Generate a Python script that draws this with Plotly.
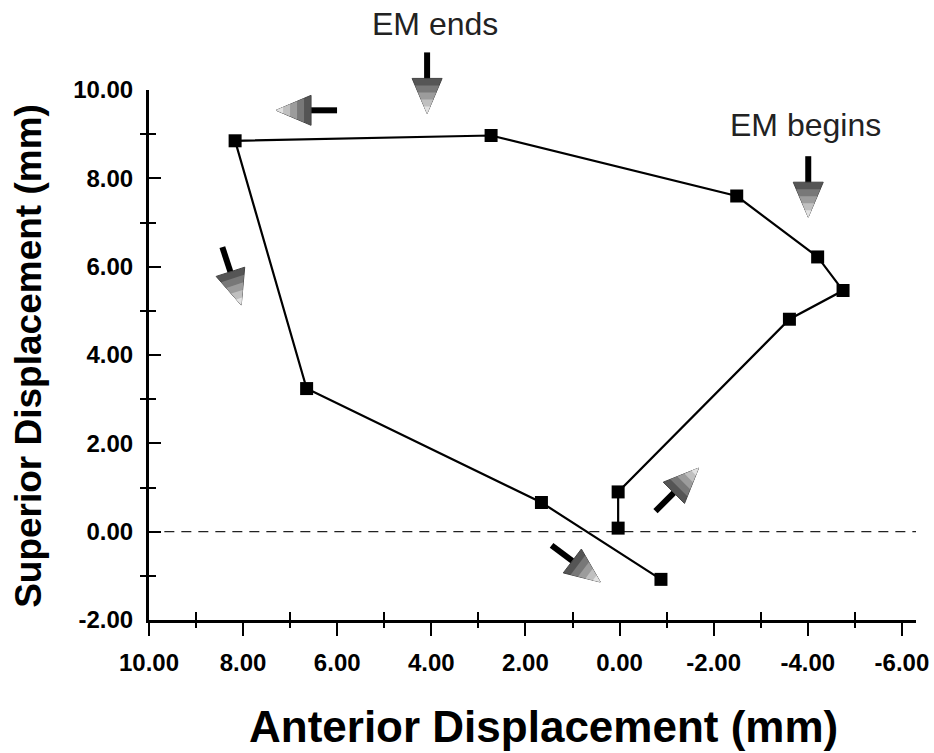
import math
import plotly.graph_objects as go

# ---- data ----
anterior = [0.03, 0.03, -3.61, -4.75, -4.21, -2.49, 2.73, 8.17, 6.65, 1.66, -0.88]
superior = [0.08, 0.90, 4.81, 5.46, 6.22, 7.60, 8.97, 8.85, 3.24, 0.66, -1.08]

x_ticks = [10, 8, 6, 4, 2, 0, -2, -4, -6]
x_tick_text = ["10.00", "8.00", "6.00", "4.00", "2.00", "0.00", "-2.00", "-4.00", "-6.00"]
y_ticks = [-2, 0, 2, 4, 6, 8, 10]
y_tick_text = ["-2.00", "0.00", "2.00", "4.00", "6.00", "8.00", "10.00"]
x_minor = [9, 7, 5, 3, 1, -1, -3, -5]
y_minor = [-1, 1, 3, 5, 7, 9]

X_RANGE = [10, -6.3]
Y_RANGE = [-2, 10]

# direction arrows: tip position (data units) and screen angle (deg, clockwise from +x)
arrow_tip_x = [4.09, -4.01, 7.30, 8.04, 0.41, -1.68]
arrow_tip_y = [9.47, 7.12, 9.54, 5.13, -1.14, 1.44]
arrow_angle = [90, 90, 180, 72, 37, -45]

labels = ["EM ends", "EM begins"]
label_x = [3.92, -3.95]
label_y = [11.5, 9.2]

FONT = "Liberation Sans, Arial, Helvetica, sans-serif"


def to_paper_x(v):
    return (v - X_RANGE[0]) / (X_RANGE[1] - X_RANGE[0])


def to_paper_y(v):
    return (v - Y_RANGE[0]) / (Y_RANGE[1] - Y_RANGE[0])


fig = go.Figure()

fig.add_trace(go.Scatter(
    x=anterior, y=superior, mode="lines+markers",
    line=dict(color="black", width=2.2),
    marker=dict(symbol="square", size=13, color="black"),
    showlegend=False, hoverinfo="skip",
))
# helper traces for overlay axes (minor ticks crossing the axis lines)
fig.add_trace(go.Scatter(x=[None], y=[None], xaxis="x2", yaxis="y", showlegend=False))
fig.add_trace(go.Scatter(x=[None], y=[None], xaxis="x", yaxis="y2", showlegend=False))

shapes = []
# dashed zero line
shapes.append(dict(type="line", xref="paper", yref="y", x0=0.02, x1=1.0, y0=0, y1=0,
                   line=dict(color="#222", width=1.3, dash="10px,7px"), layer="below"))

HEAD_L, HEAD_W, STEM_L = 35, 15, 26
band_scales = [1.0, 0.8, 0.6, 0.4, 0.2]
band_colors = ["#555555", "#787878", "#9c9c9c", "#c0c0c0", "#e2e2e2"]
for tx, ty, ang in zip(arrow_tip_x, arrow_tip_y, arrow_angle):
    ax_p, ay_p = to_paper_x(tx), to_paper_y(ty)
    a = math.radians(ang)
    dx, dy = math.cos(a), -math.sin(a)  # screen (y down) -> shape pixel (y up)
    px, py = -dy, dx
    bx, by = -HEAD_L * dx, -HEAD_L * dy
    sx, sy = bx - STEM_L * dx, by - STEM_L * dy
    shapes.append(dict(type="path", xref="paper", yref="paper",
                       xsizemode="pixel", ysizemode="pixel",
                       xanchor=ax_p, yanchor=ay_p,
                       path=f"M{sx:.1f},{sy:.1f} L{bx + 3*dx:.1f},{by + 3*dy:.1f}",
                       line=dict(color="black", width=6)))
    for s, c in zip(band_scales, band_colors):
        L, W = HEAD_L * s, HEAD_W * s
        cx, cy = -L * dx, -L * dy
        p1 = (cx + W * px, cy + W * py)
        p2 = (cx - W * px, cy - W * py)
        shapes.append(dict(type="path", xref="paper", yref="paper",
                           xsizemode="pixel", ysizemode="pixel",
                           xanchor=ax_p, yanchor=ay_p,
                           path=f"M0,0 L{p1[0]:.1f},{p1[1]:.1f} L{p2[0]:.1f},{p2[1]:.1f} Z",
                           fillcolor=c,
                           line=dict(color="#444" if s == 1.0 else c,
                                     width=1 if s == 1.0 else 0)))

annotations = []
for t, lx, ly in zip(labels, label_x, label_y):
    annotations.append(dict(text=t, x=to_paper_x(lx), y=to_paper_y(ly),
                            xref="paper", yref="paper", showarrow=False,
                            font=dict(family=FONT, size=32, color="#222"),
                            xanchor="center", yanchor="middle"))
annotations.append(dict(text="<b>Anterior Displacement (mm)</b>", x=0.514, y=-0.2,
                        xref="paper", yref="paper", showarrow=False,
                        font=dict(family=FONT, size=44, color="black"),
                        xanchor="center", yanchor="middle"))
annotations.append(dict(text="<b>Superior Displacement (mm)</b>", x=-0.158, y=0.498,
                        xref="paper", yref="paper", showarrow=False, textangle=-90,
                        font=dict(family=FONT, size=37, color="black"),
                        xanchor="center", yanchor="middle"))

tickfont = dict(family=FONT, size=24, color="black", weight="bold")

fig.update_layout(
    width=934, height=753, autosize=False,
    margin=dict(l=149, r=18, t=90, b=133, autoexpand=False),
    paper_bgcolor="white", plot_bgcolor="white",
    showlegend=False,
    xaxis=dict(range=X_RANGE, tickvals=x_ticks, ticktext=x_tick_text,
               ticks="outside", ticklen=13, tickwidth=2, tickcolor="black",
               showline=True, linewidth=3, linecolor="black",
               showgrid=False, zeroline=False, tickfont=tickfont,
               ticklabelstandoff=6, automargin=False,
               minor=dict(tickvals=x_minor, ticks="inside", ticklen=8,
                          tickwidth=2, tickcolor="black", showgrid=False),
               anchor="y"),
    xaxis2=dict(range=X_RANGE, overlaying="x", anchor="y", side="bottom",
                tickvals=x_minor, ticks="outside", ticklen=7, tickwidth=2,
                tickcolor="black", showticklabels=False, showline=False,
                showgrid=False, zeroline=False, automargin=False),
    yaxis=dict(range=Y_RANGE, tickvals=y_ticks, ticktext=y_tick_text,
               ticks="inside", ticklen=12, tickwidth=2, tickcolor="black",
               showline=True, linewidth=3, linecolor="black",
               showgrid=False, zeroline=False, tickfont=tickfont,
               ticklabelstandoff=8, automargin=False,
               minor=dict(tickvals=y_minor, ticks="inside", ticklen=7,
                          tickwidth=2, tickcolor="black", showgrid=False),
               anchor="x"),
    yaxis2=dict(range=Y_RANGE, overlaying="y", anchor="x", side="left",
                tickvals=y_minor, ticks="outside", ticklen=8, tickwidth=2,
                tickcolor="black", showticklabels=False, showline=False,
                showgrid=False, zeroline=False, automargin=False),
    shapes=shapes,
    annotations=annotations,
)

fig.write_html(
    "out.html",
    config={"responsive": False, "displayModeBar": False},
    post_script="document.body.style.margin='0';document.body.style.overflow='hidden';",
)
